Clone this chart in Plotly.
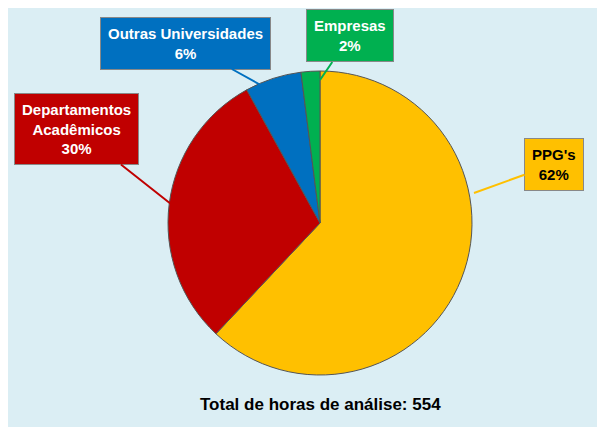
import plotly.graph_objects as go

labels = ["PPG's", "Departamentos<br>Acadêmicos", "Outras Universidades", "Empresas"]
values = [62, 30, 6, 2]
colors = ["#ffc000", "#c00000", "#0070c0", "#00b050"]
text_colors = ["black", "white", "white", "white"]
total_horas = 554

W, H = 605, 427

fig = go.Figure(go.Pie(
    labels=labels, values=values, sort=False, direction="clockwise", rotation=0,
    marker=dict(colors=colors, line=dict(color="#555555", width=1)),
    textinfo="none", hoverinfo="label+percent", showlegend=False,
    domain=dict(x=[160 / W, 464 / W], y=[1 - 367 / H, 1 - 63 / H]),
))

# arrow tip (px), box offset (px)
callouts = [
    ((466, 185), (80, -29)),
    ((168, 200), (-100, -79)),
    ((258, 80), (-81, -45)),
    ((312, 72), (30, -44)),
]
for i, ((tx, ty), (ax, ay)) in enumerate(callouts):
    fig.add_annotation(
        x=tx / W, y=1 - ty / H, xref="paper", yref="paper", ax=ax, ay=ay,
        text=f"<b>{labels[i]}<br>{values[i]}%</b>",
        font=dict(family="Liberation Sans", size=15, color=text_colors[i]),
        bgcolor=colors[i], bordercolor="#888888", borderwidth=1, borderpad=7,
        showarrow=True, arrowhead=0, arrowcolor=colors[i], arrowwidth=2,
    )

fig.add_annotation(
    x=312 / W, y=1 - 408 / H, xref="paper", yref="paper", showarrow=False,
    text=f"<b>Total de horas de análise: {total_horas}</b>",
    font=dict(family="Liberation Sans", size=17, color="black"),
)

fig.update_layout(
    width=W, height=H, margin=dict(l=0, r=0, t=0, b=0),
    paper_bgcolor="#dbeef4", plot_bgcolor="#dbeef4",
)
fig.write_html("out.html")
